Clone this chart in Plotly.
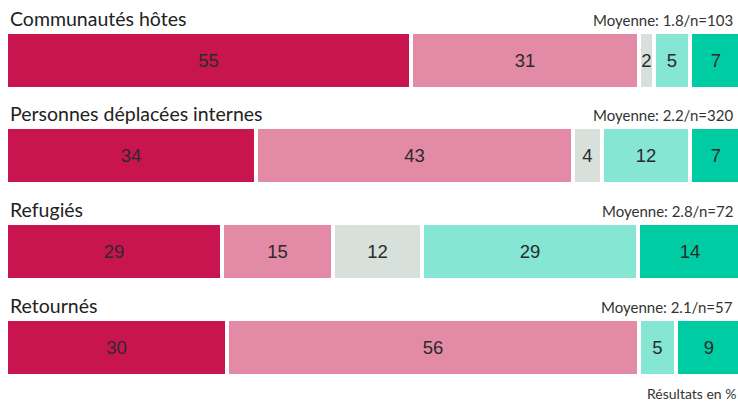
import plotly.graph_objects as go

groups = ["Communautés hôtes", "Personnes déplacées internes", "Refugiés", "Retournés"]
s1 = [55, 34, 29, 30]
s2 = [31, 43, 15, 56]
s3 = [2, 4, 12, 0]
s4 = [5, 12, 29, 5]
s5 = [7, 7, 14, 9]
moyenne = ["1.8", "2.2", "2.8", "2.1"]
n_obs = [103, 320, 72, 57]

series = [s1, s2, s3, s4, s5]
colors = ["#C8154F", "#E38AA7", "#D7E0DA", "#84E6D3", "#00CCA3"]

W, H = 738, 401
bar_tops = [34, 129, 225, 321]
bar_h = 53
lw = 4
dom_left = 6          # px; visible bars start at dom_left + lw/2
full_px = 736         # px length of 100 % (last bar slightly past the right edge)

fig = go.Figure()
layout = {}
for i, g in enumerate(groups):
    k = "" if i == 0 else str(i + 1)
    total = sum(s[i] for s in series)
    for j, s in enumerate(series):
        v = s[i]
        fig.add_trace(go.Bar(
            x=[v], y=[0], orientation="h",
            xaxis="x" + k, yaxis="y" + k,
            marker=dict(color=colors[j], line=dict(color="white", width=lw)),
            text=[str(v) if v else ""], textposition="inside",
            insidetextanchor="middle", textangle=0, constraintext="none",
            textfont=dict(family="Liberation Sans, Arial", size=18.5, color="#2b2b2b"),
            width=1, showlegend=False, hoverinfo="skip",
        ))
    rng = total * (W - dom_left) / full_px
    top = bar_tops[i] - lw / 2
    bot = bar_tops[i] + bar_h + lw / 2
    layout["xaxis" + k] = dict(domain=[dom_left / W, 1], range=[0, rng], visible=False, fixedrange=True)
    layout["yaxis" + k] = dict(domain=[1 - bot / H, 1 - top / H], range=[-0.5, 0.5], visible=False, fixedrange=True)

annotations = []
for i, g in enumerate(groups):
    annotations.append(dict(
        text=g, xref="paper", yref="paper", x=8 / W, y=1 - (bar_tops[i] - 2) / H,
        xanchor="left", yanchor="bottom", showarrow=False,
        font=dict(family="Lato", size=19.5, color="#222222"),
    ))
    annotations.append(dict(
        text=f"Moyenne: {moyenne[i]}/n={n_obs[i]}", xref="paper", yref="paper",
        x=1 - 3 / W, y=1 - (bar_tops[i] - 3) / H,
        xanchor="right", yanchor="bottom", showarrow=False,
        font=dict(family="Lato", size=15, color="#333333"),
    ))
annotations.append(dict(
    text="Résultats en %", xref="paper", yref="paper",
    x=1, y=-3 / H, xanchor="right", yanchor="bottom",
    showarrow=False, font=dict(family="Lato", size=14, color="#333333"),
))

fig.update_layout(
    width=W, height=H, margin=dict(l=0, r=0, t=0, b=0),
    paper_bgcolor="white", plot_bgcolor="white",
    barmode="stack", bargap=0, annotations=annotations, **layout,
)
fig.write_html("out.html")
